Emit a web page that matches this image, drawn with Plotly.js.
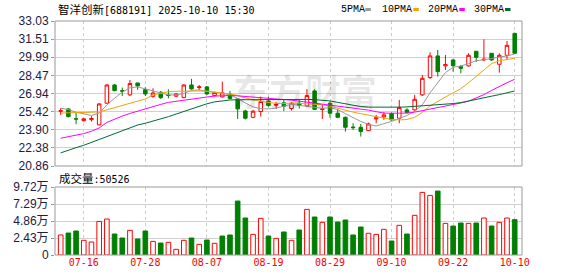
<!DOCTYPE html>
<html><head><meta charset="utf-8">
<script src="https://cdn.plot.ly/plotly-3.0.1.min.js"></script>
<style>html,body{margin:0;padding:0;background:#fff}#c{width:578px;height:276px}</style>
</head><body><div id="c"></div>
<script>
const dates = ["07-11","07-14","07-15","07-16","07-17","07-18","07-21","07-22","07-23","07-24","07-25","07-28","07-29","07-30","07-31","08-01","08-04","08-05","08-06","08-07","08-08","08-11","08-12","08-13","08-14","08-15","08-18","08-19","08-20","08-21","08-22","08-25","08-26","08-27","08-28","08-29","09-01","09-02","09-03","09-04","09-05","09-08","09-09","09-10","09-11","09-12","09-15","09-16","09-17","09-18","09-19","09-22","09-23","09-24","09-25","09-26","09-29","09-30","10-09","10-10"];
const openP = [25.45,25.65,24.83,24.67,24.75,24.31,26.13,27.66,27.18,26.83,27.83,27.27,26.71,27.05,26.80,26.72,26.60,27.66,27.44,27.50,26.77,26.66,26.88,26.49,25.48,24.95,25.43,26.32,25.96,26.16,25.68,26.13,25.90,27.16,25.60,26.13,25.29,24.95,24.13,24.11,23.83,24.81,24.98,25.26,24.87,25.57,25.57,26.83,28.28,30.10,29.26,29.76,29.20,29.26,30.49,29.76,30.32,29.40,30.15,31.99];
const highP = [25.71,25.70,25.37,24.87,25.04,26.13,27.72,27.75,27.44,28.08,27.83,27.47,27.38,27.16,27.30,26.97,27.72,28.17,27.66,27.58,27.10,27.94,27.16,26.55,25.57,25.57,26.69,26.69,26.21,26.41,26.24,26.46,27.30,27.30,25.99,26.27,25.62,25.01,24.45,24.39,24.50,25.15,25.40,25.34,26.41,25.71,26.83,28.50,30.40,30.60,30.18,29.82,29.34,30.32,30.49,31.49,30.32,30.32,31.35,32.05];
const lowP = [25.15,24.93,24.37,24.59,24.59,24.28,26.10,27.13,26.74,26.74,27.25,26.74,26.60,26.49,26.55,26.63,26.55,27.27,27.22,26.83,26.68,26.60,26.46,24.81,24.76,24.87,25.01,25.85,25.65,25.48,25.51,25.68,25.79,25.57,24.81,24.92,24.87,23.75,23.89,23.33,23.81,24.45,24.73,24.67,24.45,25.29,25.51,26.74,28.17,28.36,28.92,28.78,28.64,29.20,29.59,29.65,29.70,28.70,29.76,30.26];
const closeP = [25.50,25.01,24.80,24.82,24.85,26.07,27.66,27.19,27.14,27.78,27.58,26.91,26.99,26.60,26.78,26.91,27.66,27.33,27.50,26.91,27.02,27.00,26.52,25.65,24.87,25.46,26.27,25.93,26.02,25.87,26.13,25.96,26.77,25.62,25.65,25.29,24.95,24.11,24.08,23.75,24.39,24.90,25.15,24.73,25.76,25.34,26.46,28.22,30.10,28.78,29.37,29.28,29.06,30.15,29.98,29.82,29.76,30.15,30.99,30.32];
const ma5 = [25.71,25.60,25.37,25.22,25.10,25.30,25.99,26.55,27.05,27.42,27.50,27.33,27.17,26.98,26.83,26.82,26.95,27.20,27.24,27.12,27.04,26.98,26.82,26.52,26.15,25.82,25.67,25.65,25.72,25.88,26.05,25.95,25.85,25.75,25.70,25.75,25.60,25.25,24.90,24.60,24.35,24.22,24.42,24.60,24.85,25.10,25.45,26.00,27.00,27.90,28.70,29.15,29.25,29.45,29.70,29.78,29.88,29.98,30.10,30.26];
const ma10 = [25.30,25.35,25.35,25.35,25.35,25.40,25.57,25.75,25.95,26.15,26.33,26.49,26.82,26.97,27.10,27.13,27.16,27.16,27.16,27.14,27.08,27.00,26.90,26.78,26.58,26.40,26.28,26.18,26.12,26.10,26.15,26.12,26.10,26.08,26.00,25.88,25.70,25.55,25.38,25.25,25.12,24.98,24.83,24.76,24.73,24.76,24.95,25.35,25.90,26.30,26.65,27.00,27.35,27.85,28.40,28.95,29.45,29.70,29.82,29.90];
const ma20 = [23.19,23.30,23.42,23.58,23.78,24.05,24.52,24.80,25.05,25.27,25.47,25.67,25.86,26.03,26.20,26.30,26.38,26.48,26.57,26.65,26.73,26.77,26.78,26.75,26.70,26.67,26.63,26.58,26.53,26.45,26.38,26.30,26.22,26.15,26.05,25.95,25.87,25.80,25.70,25.62,25.55,25.42,25.30,25.29,25.29,25.30,25.38,25.50,25.62,25.75,25.90,26.00,26.15,26.30,26.55,26.85,27.20,27.55,27.85,28.14];
const ma30 = [21.96,22.20,22.40,22.60,22.85,23.10,23.35,23.60,23.85,24.10,24.30,24.45,24.62,24.80,25.00,25.22,25.44,25.65,25.88,26.08,26.24,26.35,26.40,26.42,26.43,26.44,26.45,26.46,26.47,26.48,26.48,26.47,26.45,26.43,26.40,26.32,26.20,26.08,25.95,25.85,25.80,25.79,25.79,25.79,25.80,25.82,25.86,25.90,25.95,26.00,26.05,26.10,26.18,26.30,26.45,26.60,26.72,26.85,27.00,27.16];
const volume = [2.86,3.14,3.43,2.10,1.86,4.80,5.14,3.00,2.43,3.52,2.29,3.43,1.95,1.71,1.81,0.81,2.10,2.43,1.52,2.14,1.67,2.71,2.86,7.71,5.29,2.95,5.24,2.71,2.38,3.29,2.10,3.57,6.52,5.43,4.67,5.43,4.71,5.00,2.86,4.00,3.10,2.95,3.67,2.00,4.24,3.00,5.67,8.95,8.52,9.14,4.52,4.14,4.57,4.52,4.57,5.29,4.14,4.67,5.29,5.05];
const volUp = [1,0,0,1,1,1,1,0,0,1,0,0,1,0,1,1,1,0,1,0,1,0,0,0,0,1,1,0,1,0,1,0,1,0,1,0,0,0,0,0,1,1,1,0,1,0,1,1,1,0,1,0,0,1,0,1,0,1,1,0];
const priceTicks = [20.86,22.38,23.90,25.42,26.94,28.47,29.99,31.51,33.03];
const priceTickText = ["20.86","22.38","23.90","25.42","26.94","28.47","29.99","31.51","33.03"];
const volTicks = [0,2.43,4.86,7.29,9.72];
const volTickText = ["0","2.43万","4.86万","7.29万","9.72万"];
const dateTicks = ["07-16","07-28","08-07","08-19","08-29","09-10","09-22","10-10"];
const titleName = "智洋创新";
const titleRest = "[688191] 2025-10-10 15:30";
const volLabel = "成交量";
const lastVol = "50526";
const maNames = ["5PMA","10PMA","20PMA","30PMA"];

const RED = "#ff0000", GREEN = "#008000";
const maColors = ["#999999","#f2a30f","#ff00ff","#006b35"];

// pixel helpers
const L = 55, R = 522, T = 21, B = 255;
const px = x => (x - L) / (R - L);
const py = y => (B - y) / (B - T);

const traces = [
  {type:"candlestick", x:dates, open:openP, high:highP, low:lowP, close:closeP,
   xaxis:"x", yaxis:"y", whiskerwidth:0,
   increasing:{line:{color:RED,width:1}, fillcolor:"#ffffff"},
   decreasing:{line:{color:GREEN,width:1}, fillcolor:GREEN},
   hoverinfo:"skip", showlegend:false}
];
[ma5, ma10, ma20, ma30].forEach((m,i)=>{
  traces.push({type:"scatter", mode:"lines", x:dates, y:m, xaxis:"x", yaxis:"y",
    line:{color:maColors[i], width:1}, hoverinfo:"skip", showlegend:false});
});
traces.push({type:"bar", x:dates, y:volume, xaxis:"x", yaxis:"y2", width:0.6,
  marker:{color:volUp.map(u=>u?"#ffffff":GREEN), line:{color:volUp.map(u=>u?RED:GREEN), width:1}},
  hoverinfo:"skip", showlegend:false});

const tickFont = {family:"Liberation Sans, Noto Sans CJK SC", size:12, color:"#1b2040"};
const annotations = [
  {xref:"paper", yref:"paper", x:px(56), y:py(9.5), xanchor:"left", yanchor:"middle", showarrow:false,
   text:'<span style="font-family:Noto Sans CJK SC;font-size:11.5px">'+titleName+'</span>'+titleRest,
   font:{family:"DejaVu Sans Mono", size:10, color:"#000"}},
  {xref:"paper", yref:"paper", x:px(57), y:py(177.5), xanchor:"left", yanchor:"middle", showarrow:false,
   text:'<span style="font-family:Noto Sans CJK SC;font-size:11.5px">'+volLabel+'</span>:'+lastVol,
   font:{family:"DejaVu Sans Mono", size:10, color:"#000"}},
  {xref:"paper", yref:"paper", x:px(305), y:py(90), xanchor:"center", yanchor:"middle", showarrow:false,
   text:"东方财富", font:{family:"Noto Sans CJK SC", size:36, color:"rgba(0,0,0,0.09)", weight:700}}
];
const legX = [339, 380, 425.7, 471.7];
const sqX = [365.3, 413.3, 459.3, 505];
const shapes = [
  {type:"rect", xref:"paper", yref:"y domain", x0:0, x1:1, y0:0, y1:1, line:{color:"#999", width:1}},
  {type:"rect", xref:"paper", yref:"y2 domain", x0:0, x1:1, y0:0, y1:1, line:{color:"#999", width:1}}
];
maNames.forEach((n,i)=>{
  annotations.push({xref:"paper", yref:"paper", x:px(legX[i]), y:py(9.5), xanchor:"left", yanchor:"middle",
    showarrow:false, text:n, font:{family:"Liberation Mono", size:10, color:"#000"}});
  shapes.push({type:"rect", xref:"paper", yref:"paper", x0:px(sqX[i]), x1:px(sqX[i]+5.5),
    y0:py(11), y1:py(8), fillcolor:maColors[i], line:{width:0}});
});

const layout = {
  width:578, height:276, margin:{l:L, r:578-R, t:T, b:276-B, pad:0},
  paper_bgcolor:"#fff", plot_bgcolor:"#fff", showlegend:false, boxgap:0.35,
  xaxis:{type:"category", anchor:"y2", range:[-0.74, 59.95], rangeslider:{visible:false},
    tickvals:dateTicks, ticktext:dateTicks, showgrid:true, gridcolor:"#cccccc", griddash:"3px,3px",
    gridwidth:1, ticks:"", zeroline:false, showline:false,
    tickfont:{family:"DejaVu Sans Mono", size:10, color:RED}},
  yaxis:{domain:[py(166), 1], range:[20.86, 33.03], tickvals:priceTicks, ticktext:priceTickText,
    showgrid:true, gridcolor:"#d0d0d0", zeroline:false, showline:false,
    ticks:"outside", ticklen:3, tickcolor:"#999", tickfont:tickFont},
  yaxis2:{domain:[0, py(187)], range:[0, 9.72], tickvals:volTicks, ticktext:volTickText,
    showgrid:true, gridcolor:"#d0d0d0", zeroline:false, showline:false,
    ticks:"outside", ticklen:3, tickcolor:"#999", tickfont:tickFont},
  annotations:annotations, shapes:shapes
};
Plotly.newPlot("c", traces, layout, {staticPlot:true, displayModeBar:false});
</script></body></html>
